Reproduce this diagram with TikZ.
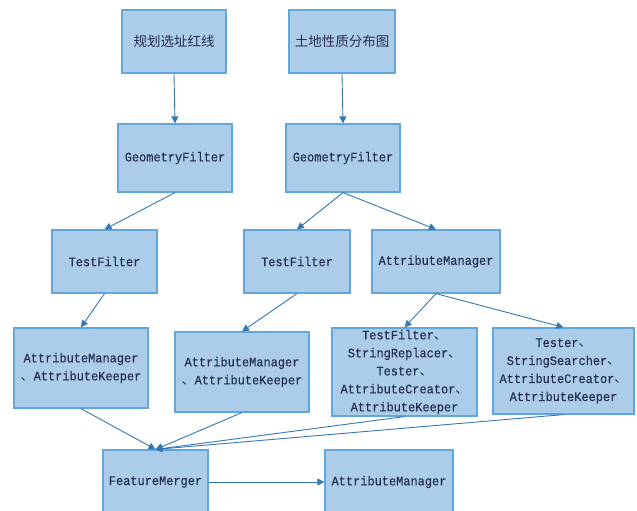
\documentclass[tikz,border=0pt]{standalone}
\usepackage{fontspec}
\setmainfont{Liberation Mono}[FakeStretch=0.92,FakeBold=0.3]
\newfontfamily\cjk{Noto Sans CJK SC}
\usepackage{tikz}
\usetikzlibrary{arrows.meta}

\definecolor{boxfill}{RGB}{172,205,233}
\definecolor{boxline}{RGB}{98,166,222}
\definecolor{arrowblue}{RGB}{52,120,182}
\definecolor{textnavy}{RGB}{38,46,82}
\newcommand{\dun}{{\cjk 、}}

\begin{document}
\begin{tikzpicture}[x=1pt,y=-1pt,
    box/.style={draw=boxline,fill=boxfill,line width=1.2pt,text=textnavy,align=center,inner sep=0pt,font=\fontsize{13}{18}\selectfont}]
    \clip (0,0) rectangle (637,511);
    \fill[white] (0,0) rectangle (637,511);

    \node (plan)[box,minimum width=104pt,minimum height=63pt] at (174,41.5) {\cjk\fontsize{13.5}{16}\selectfont 规划选址红线};
    \node (land)[box,minimum width=106pt,minimum height=63pt] at (342,41.5) {\cjk\fontsize{13.5}{16}\selectfont 土地性质分布图};

    \node (geoA)[box,minimum width=114pt,minimum height=68pt] at (175,158) {GeometryFilter};
    \node (geoB)[box,minimum width=114pt,minimum height=68pt] at (343,158) {GeometryFilter};

    \node (testA)[box,minimum width=105pt,minimum height=63pt] at (104.5,261.5) {TestFilter};
    \node (testB)[box,minimum width=106pt,minimum height=63pt] at (297,261.5) {TestFilter};
    \node (attrC)[box,minimum width=128pt,minimum height=63pt] at (436,261.5) {AttributeManager};

    \node (keepA)[box,minimum width=134pt,minimum height=80pt] at (81,368) {AttributeManager\\\dun AttributeKeeper};
    \node (keepB)[box,minimum width=134pt,minimum height=80pt] at (242,372) {AttributeManager\\\dun AttributeKeeper};
    \node (chainC)[box,minimum width=145pt,minimum height=88pt] at (404.5,372) {TestFilter\dun\\StringReplacer\dun\\Tester\dun\\AttributeCreator\dun\\AttributeKeeper};
    \node (chainD)[box,minimum width=141pt,minimum height=86pt] at (563.5,371) {Tester\dun\\StringSearcher\dun\\AttributeCreator\dun\\AttributeKeeper};

    \node (merge)[box,minimum width=105pt,minimum height=64pt] at (155.5,482) {FeatureMerger};
    \node (attrE)[box,minimum width=128pt,minimum height=64pt] at (389,482) {AttributeManager};

    \path [color=arrowblue,line width=0.9pt,-{Triangle[length=7pt,width=7pt]}] (plan.south) edge (geoA.north);
    \path [color=arrowblue,line width=0.9pt,-{Triangle[length=7pt,width=7pt]}] (land.south) edge (geoB.north);
    \path [color=arrowblue,line width=0.9pt,-{Triangle[length=7pt,width=7pt]}] (geoA.south) edge (testA.north);
    \path [color=arrowblue,line width=0.9pt,-{Triangle[length=7pt,width=7pt]}] (geoB.south) edge (testB.north);
    \path [color=arrowblue,line width=0.9pt,-{Triangle[length=7pt,width=7pt]}] (geoB.south) edge (attrC.north);
    \path [color=arrowblue,line width=0.9pt,-{Triangle[length=7pt,width=7pt]}] (testA.south) edge (keepA.north);
    \path [color=arrowblue,line width=0.9pt,-{Triangle[length=7pt,width=7pt]}] (testB.south) edge (keepB.north);
    \path [color=arrowblue,line width=0.9pt,-{Triangle[length=7pt,width=7pt]}] (attrC.south) edge (chainC.north);
    \path [color=arrowblue,line width=0.9pt,-{Triangle[length=7pt,width=7pt]}] (attrC.south) edge (chainD.north);
    \path [color=arrowblue,line width=0.9pt,-{Triangle[length=7pt,width=7pt]}] (keepA.south) edge (merge.north);
    \path [color=arrowblue,line width=0.9pt,-{Triangle[length=7pt,width=7pt]}] (keepB.south) edge (merge.north);
    \path [color=arrowblue,line width=0.9pt,-{Triangle[length=7pt,width=7pt]}] (chainC.south) edge (merge.north);
    \path [color=arrowblue,line width=0.9pt,-{Triangle[length=7pt,width=7pt]}] (chainD.south) edge (merge.north);
    \path [color=arrowblue,line width=0.9pt,-{Triangle[length=7pt,width=7pt]}] (merge.east) edge (attrE.west);
\end{tikzpicture}
\end{document}
